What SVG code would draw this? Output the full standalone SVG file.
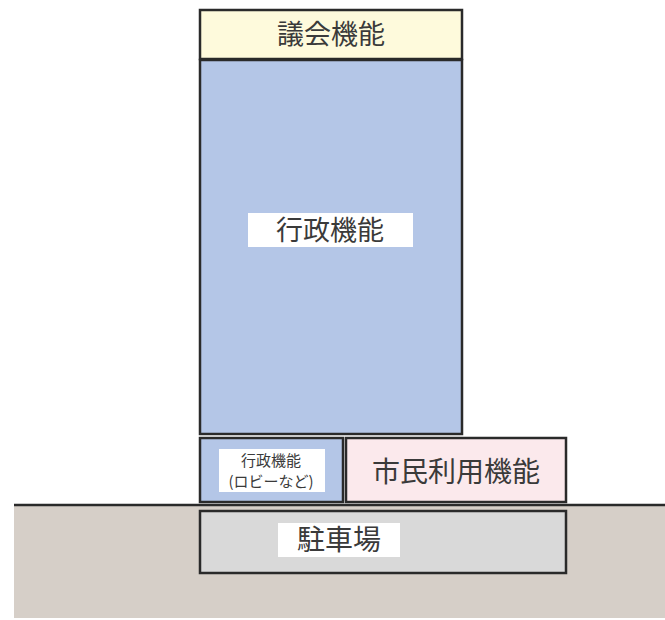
<svg xmlns="http://www.w3.org/2000/svg" width="665" height="620" viewBox="0 0 665 620">
<style>
.box{stroke:#2a2a2a;stroke-width:2.5}
.lbl{font-family:"Noto Sans CJK JP","Noto Sans CJK SC",sans-serif;fill:#3a3a3a;text-anchor:middle}
.bg{fill:#ffffff}
</style>
<rect width="665" height="620" fill="#ffffff"/>
<g id="ground">
<rect x="14" y="505" width="651" height="113" fill="#d6cfc8"/>
<line x1="14" y1="505" x2="665" y2="505" stroke="#2a2a2a" stroke-width="2.5"/>
</g>
<g id="gikai">
<rect class="box" x="200" y="10" width="262" height="49" fill="#fefadc"/>
<text class="lbl" x="331" y="44" font-size="27">議会機能</text>
</g>
<g id="gyousei">
<rect class="box" x="200" y="60" width="262" height="374" fill="#b4c6e7"/>
<rect class="bg" x="248" y="213" width="165" height="34"/>
<text class="lbl" x="330" y="240" font-size="27">行政機能</text>
</g>
<g id="lobby">
<rect class="box" x="200" y="438" width="143" height="64" fill="#b4c6e7"/>
<rect class="bg" x="219" y="449" width="106" height="43"/>
<text class="lbl" x="271" y="466" font-size="15">行政機能</text>
<text class="lbl" x="271" y="487" font-size="15">(ロビーなど)</text>
</g>
<g id="shimin">
<rect class="box" x="346" y="438" width="220" height="64" fill="#fbe9ec"/>
<text class="lbl" x="456" y="482" font-size="28">市民利用機能</text>
</g>
<g id="parking">
<rect class="box" x="200" y="511" width="366" height="62" fill="#d9d9d9"/>
<rect class="bg" x="278" y="523" width="122" height="34"/>
<text class="lbl" x="339" y="550" font-size="28">駐車場</text>
</g>
<g id="connectors"></g>
</svg>
